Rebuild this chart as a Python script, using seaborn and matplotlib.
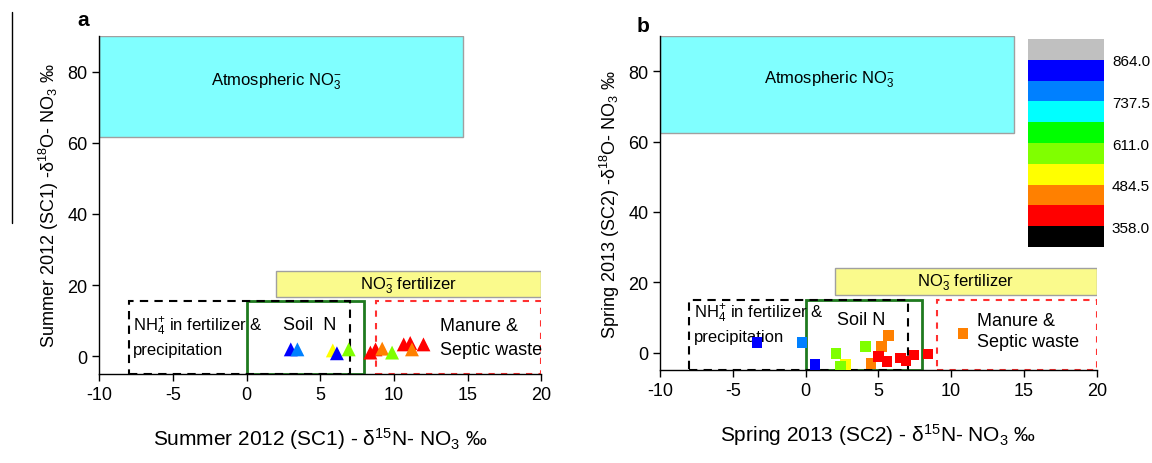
import pandas as pd
import seaborn as sns
import matplotlib
matplotlib.use("Agg")
import matplotlib.pyplot as plt
from matplotlib.patches import Rectangle
from matplotlib.colors import ListedColormap, BoundaryNorm
from matplotlib.cm import ScalarMappable
from matplotlib.lines import Line2D

# --- data ---
# panel a: Summer 2012 (SC1), triangles
sc1_n15 = [3.0, 3.45, 5.85, 6.13, 6.93, 8.4, 8.75, 9.2, 9.87, 10.66, 11.1, 11.22, 12.0]
sc1_o18 = [1.9, 1.9, 1.6, 0.8, 1.9, 1.0, 1.9, 2.1, 1.0, 3.3, 3.7, 1.9, 3.3]
sc1_z = [832, 769, 516, 832, 580, 390, 390, 453, 580, 390, 390, 453, 390]

# panel b: Spring 2013 (SC2), squares
sc2_n15 = [-3.35, -0.25, 0.65, 2.1, 2.75, 2.4, 4.1, 5.7, 5.2, 4.5, 5.0, 5.6, 6.5, 6.9, 7.45, 8.4, 10.8]
sc2_o18 = [2.9, 2.9, -3.3, -0.3, -3.3, -4.0, 1.7, 4.9, 1.7, -3.1, -1.1, -2.6, -1.5, -2.4, -0.7, -0.4, 5.4]
sc2_z = [832, 769, 832, 580, 516, 580, 580, 453, 453, 453, 390, 390, 390, 390, 390, 390, 453]

# colour scale
levels = [358.0, 421.25, 484.5, 547.75, 611.0, 674.25, 737.5, 800.75, 864.0]
band_colors = ['#ff0000', '#ff8000', '#ffff00', '#80ff00', '#00ff00', '#00ffff', '#0080ff', '#0000ff']
cbar_ticks = [358.0, 484.5, 611.0, 737.5, 864.0]

cmap = ListedColormap(band_colors).with_extremes(under='#000000', over='#c0c0c0')
norm = BoundaryNorm(levels, len(band_colors))

df1 = pd.DataFrame({'n15': sc1_n15, 'o18': sc1_o18, 'z': sc1_z})
df2 = pd.DataFrame({'n15': sc2_n15, 'o18': sc2_o18, 'z': sc2_z})

sns.set_style("ticks")
plt.rcParams['font.family'] = ['Liberation Sans', 'DejaVu Sans']
plt.rcParams['mathtext.fontset'] = 'custom'
plt.rcParams['mathtext.rm'] = 'Liberation Sans'
plt.rcParams['mathtext.it'] = 'Liberation Sans:italic'
plt.rcParams['axes.unicode_minus'] = False
for k in ('text.color', 'axes.labelcolor', 'xtick.color', 'ytick.color'):
    plt.rcParams[k] = 'black'

fig = plt.figure(figsize=(11.52, 4.64), dpi=100)
ax1 = fig.add_axes([0.086, 0.192, 0.384, 0.728])
ax2 = fig.add_axes([0.573, 0.200, 0.379, 0.720])


def draw_boxes(ax, atm, fert, nh4, soil, manure, txt):
    ax.add_patch(Rectangle(atm[:2], atm[2], atm[3], facecolor='#80ffff',
                           edgecolor='#a0a0a0', lw=1, zorder=1))
    ax.add_patch(Rectangle(fert[:2], fert[2], fert[3], facecolor='#fafa8c',
                           edgecolor='#a0a0a0', lw=1, zorder=1))
    ax.add_patch(Rectangle(soil[:2], soil[2], soil[3], fill=False,
                           edgecolor='#1f7a1f', lw=2, zorder=2))
    ax.add_patch(Rectangle(nh4[:2], nh4[2], nh4[3], fill=False,
                           edgecolor='black', lw=1.5, ls=(0, (4, 3)), zorder=2))
    ax.add_patch(Rectangle(manure[:2], manure[2], manure[3], fill=False,
                           edgecolor='#ff3030', lw=1.5, ls=(0, (3, 3)), zorder=2))
    ax.text(*txt['atm'], 'Atmospheric NO$_3^{-}$', ha='center', va='center', fontsize=12)
    ax.text(*txt['fert'], 'NO$_3^{-}$ fertilizer', ha='center', va='center', fontsize=12)
    ax.text(*txt['nh4'], 'NH$_4^{+}$ in fertilizer &', ha='left', va='center', fontsize=12)
    ax.text(*txt['prec'], 'precipitation', ha='left', va='center', fontsize=12)
    ax.text(*txt['soil'], txt['soil_label'], ha='center', va='center', fontsize=13)
    ax.text(*txt['man1'], 'Manure &', ha='left', va='center', fontsize=13)
    ax.text(*txt['man2'], 'Septic waste', ha='left', va='center', fontsize=13)


draw_boxes(ax1, (-10, 61.5, 24.7, 28.5), (2, 16.5, 18, 7.5), (-8, -5, 15, 20.4),
           (0, -5, 8, 20.5), (8.8, -5, 11.2, 20.5),
           {'atm': (2.0, 77.5), 'fert': (11, 20.2), 'nh4': (-7.7, 8.6),
            'prec': (-7.7, 2.0), 'soil': (4.3, 9.0), 'soil_label': 'Soil  N',
            'man1': (13.1, 8.6), 'man2': (13.1, 2.0)})
draw_boxes(ax2, (-10, 62.5, 24.3, 27.5), (2, 16.3, 18, 7.9), (-8, -5, 15, 20),
           (0, -5, 8, 20), (9, -5, 11, 20),
           {'atm': (1.6, 78.0), 'fert': (11, 20.2), 'nh4': (-7.7, 11.3),
            'prec': (-7.7, 4.6), 'soil': (3.8, 9.3), 'soil_label': 'Soil N',
            'man1': (11.8, 9.1), 'man2': (11.8, 3.1)})

sns.scatterplot(data=df1, x='n15', y='o18', hue='z', palette=cmap, hue_norm=norm,
                marker='^', s=100, linewidth=0, legend=False, ax=ax1, zorder=3)
sns.scatterplot(data=df2, x='n15', y='o18', hue='z', palette=cmap, hue_norm=norm,
                marker='s', s=58, linewidth=0, legend=False, ax=ax2, zorder=3)

for ax in (ax1, ax2):
    ax.set_xlim(-10, 20)
    ax.set_ylim(-5, 90)
    ax.set_xticks(range(-10, 21, 5))
    ax.set_yticks(range(0, 81, 20))
    ax.tick_params(labelsize=13, length=5, width=1, color='black')
    sns.despine(ax=ax)
    for sp in ('left', 'bottom'):
        ax.spines[sp].set_color('black')
        ax.spines[sp].set_linewidth(1)

ax1.set_xlabel('Summer 2012 (SC1) - δ$^{15}$N- NO$_3$ ‰', fontsize=15, labelpad=16)
ax2.set_xlabel('Spring 2013 (SC2) - δ$^{15}$N- NO$_3$ ‰', fontsize=15, labelpad=16)
ax1.set_ylabel('Summer 2012 (SC1) -δ$^{18}$O- NO$_3$ ‰', fontsize=13, labelpad=4)
ax2.set_ylabel('Spring 2013 (SC2) -δ$^{18}$O- NO$_3$ ‰', fontsize=13, labelpad=4)

fig.text(83 / 1152, 1 - 20 / 464, 'a', fontsize=15, fontweight='bold', ha='center', va='center')
fig.text(643 / 1152, 1 - 27 / 464, 'b', fontsize=15, fontweight='bold', ha='center', va='center')

# stray rule at far left of panel a
fig.add_artist(Line2D([12 / 1152, 12 / 1152], [1 - 13 / 464, 1 - 224 / 464],
                      color='black', lw=1))

# colour bar
cax = fig.add_axes([0.892, 0.4655, 0.066, 0.448])
cb = fig.colorbar(ScalarMappable(norm=norm, cmap=cmap), cax=cax, extend='both',
                  extendrect=True, extendfrac=0.125, ticks=cbar_ticks, format='%.1f')
cb.outline.set_linewidth(0)
cax.minorticks_off()
cax.tick_params(which='both', length=0, labelsize=11, pad=6)

fig.savefig('out.png', dpi=100)
